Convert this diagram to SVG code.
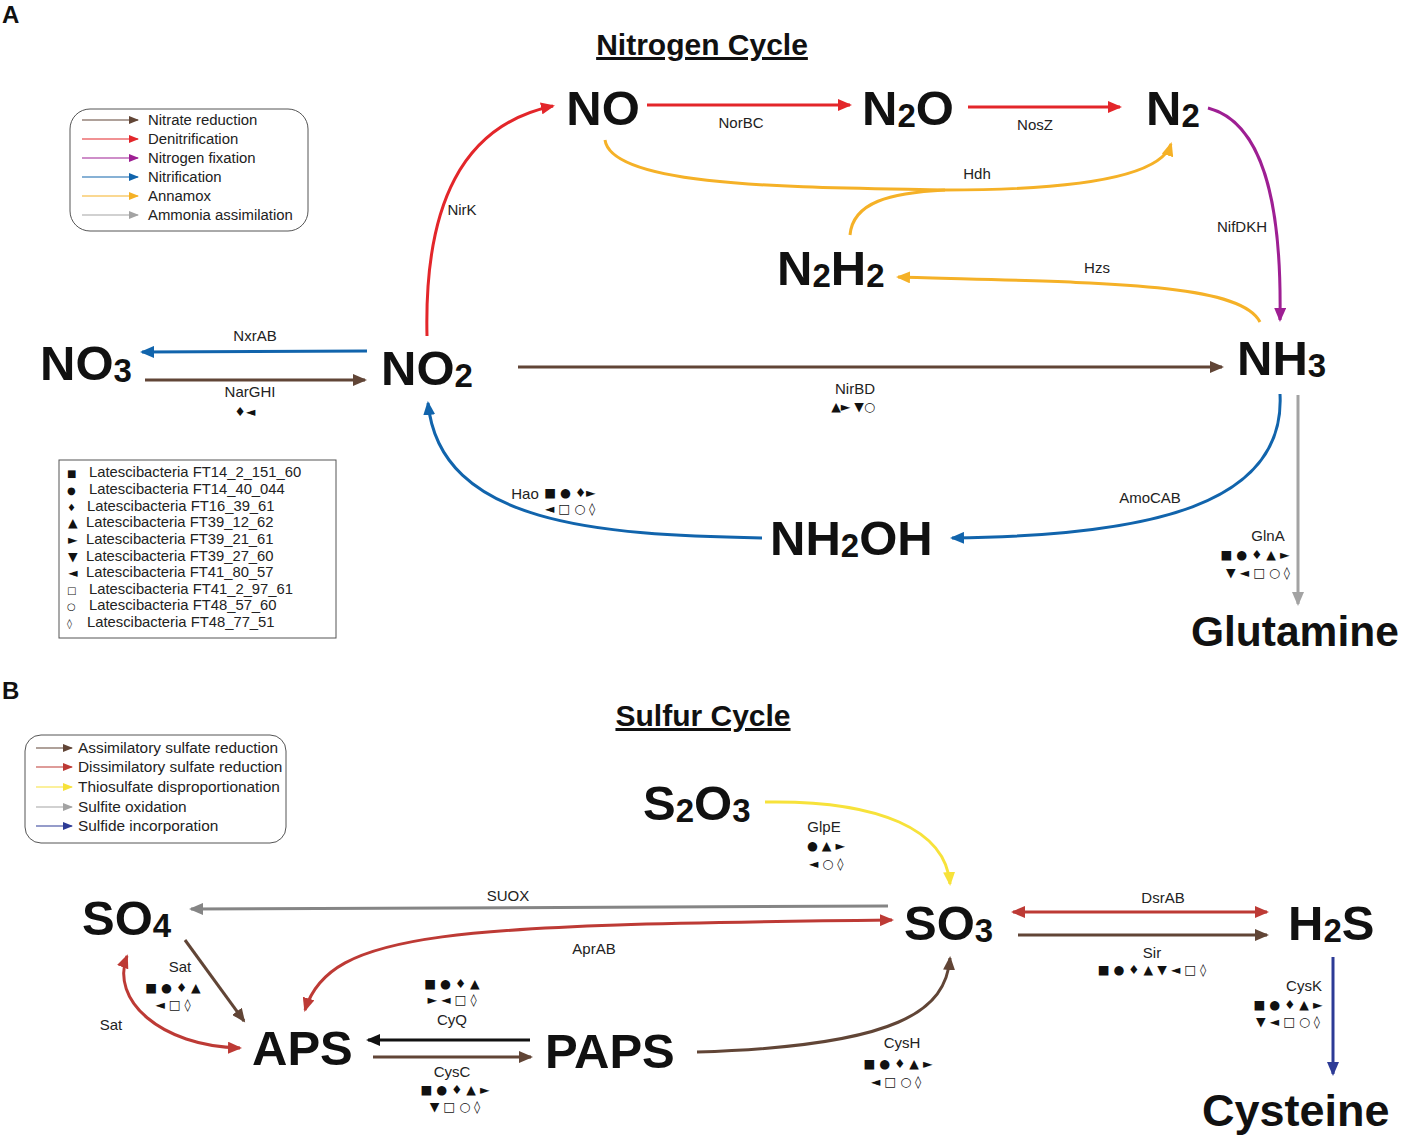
<svg xmlns="http://www.w3.org/2000/svg" width="1408" height="1135" viewBox="0 0 1408 1135">
<style>
text{font-family:"Liberation Sans",Arial,sans-serif;fill:#111}
.mol{font-weight:bold;font-size:49px}
.sub{font-size:33px}
.big{font-weight:bold;font-size:45px}
.glu{font-weight:bold;font-size:42.5px}
.title{font-weight:bold;font-size:30px;text-decoration:underline}
.panel{font-weight:bold;font-size:24px}
.lab{font-size:15px;fill:#222}
.sym{font-family:"DejaVu Sans",sans-serif;font-size:12.5px;fill:#111}
.ls{font-family:"DejaVu Sans",sans-serif;font-size:10px;fill:#111}
.leg{font-size:14.9px;fill:#222}
.legb{font-size:15.4px;fill:#222}
.sp{font-size:14.8px;fill:#222}
.c{fill:none;stroke-width:3}
.l{fill:none;stroke-width:1.2}
</style>
<defs>
<marker id="mRed" markerUnits="userSpaceOnUse" markerWidth="16" markerHeight="12" refX="12" refY="6" orient="auto-start-reverse"><path d="M0,0 L14,6 L0,12 z" fill="#e3262a"/></marker>
<marker id="mBrown" markerUnits="userSpaceOnUse" markerWidth="16" markerHeight="12" refX="12" refY="6" orient="auto-start-reverse"><path d="M0,0 L14,6 L0,12 z" fill="#614536"/></marker>
<marker id="mPurple" markerUnits="userSpaceOnUse" markerWidth="16" markerHeight="12" refX="12" refY="6" orient="auto-start-reverse"><path d="M0,0 L14,6 L0,12 z" fill="#9e1f93"/></marker>
<marker id="mBlue" markerUnits="userSpaceOnUse" markerWidth="16" markerHeight="12" refX="12" refY="6" orient="auto-start-reverse"><path d="M0,0 L14,6 L0,12 z" fill="#1164ac"/></marker>
<marker id="mYellow" markerUnits="userSpaceOnUse" markerWidth="16" markerHeight="12" refX="12" refY="6" orient="auto-start-reverse"><path d="M0,0 L14,6 L0,12 z" fill="#f5b127"/></marker>
<marker id="mGray" markerUnits="userSpaceOnUse" markerWidth="16" markerHeight="12" refX="12" refY="6" orient="auto-start-reverse"><path d="M0,0 L14,6 L0,12 z" fill="#a3a3a3"/></marker>
<marker id="mSRed" markerUnits="userSpaceOnUse" markerWidth="16" markerHeight="12" refX="12" refY="6" orient="auto-start-reverse"><path d="M0,0 L14,6 L0,12 z" fill="#bd3a35"/></marker>
<marker id="mSYellow" markerUnits="userSpaceOnUse" markerWidth="16" markerHeight="12" refX="12" refY="6" orient="auto-start-reverse"><path d="M0,0 L14,6 L0,12 z" fill="#f7e23a"/></marker>
<marker id="mSGray" markerUnits="userSpaceOnUse" markerWidth="16" markerHeight="12" refX="12" refY="6" orient="auto-start-reverse"><path d="M0,0 L14,6 L0,12 z" fill="#858585"/></marker>
<marker id="mSBlue" markerUnits="userSpaceOnUse" markerWidth="16" markerHeight="12" refX="12" refY="6" orient="auto-start-reverse"><path d="M0,0 L14,6 L0,12 z" fill="#2d3b96"/></marker>
<marker id="mBlack" markerUnits="userSpaceOnUse" markerWidth="16" markerHeight="12" refX="12" refY="6" orient="auto-start-reverse"><path d="M0,0 L14,6 L0,12 z" fill="#111"/></marker>
<marker id="sm" markerUnits="userSpaceOnUse" markerWidth="10" markerHeight="8" refX="9" refY="4" orient="auto"><path d="M0,0 L10,4 L0,8 z" fill="context-stroke"/></marker>
</defs>
<rect width="1408" height="1135" fill="#fff"/>

<text class="panel" x="2" y="23">A</text>
<text class="title" x="702" y="55" text-anchor="middle">Nitrogen Cycle</text>
<text class="panel" x="2" y="699">B</text>
<text class="title" x="703" y="726" text-anchor="middle">Sulfur Cycle</text>

<!-- Legend A -->
<g id="legendA">
<rect x="70" y="109" width="238" height="122" rx="20" fill="none" stroke="#555" stroke-width="1"/>
<line x1="82" y1="120" x2="138" y2="120" class="l" stroke="#614536" marker-end="url(#sm)"/>
<line x1="82" y1="139" x2="138" y2="139" class="l" stroke="#e3262a" marker-end="url(#sm)"/>
<line x1="82" y1="158" x2="138" y2="158" class="l" stroke="#9e1f93" marker-end="url(#sm)"/>
<line x1="82" y1="177" x2="138" y2="177" class="l" stroke="#1164ac" marker-end="url(#sm)"/>
<line x1="82" y1="196" x2="138" y2="196" class="l" stroke="#f5b127" marker-end="url(#sm)"/>
<line x1="82" y1="215" x2="138" y2="215" class="l" stroke="#a3a3a3" marker-end="url(#sm)"/>
<text class="leg" x="148" y="125">Nitrate reduction</text>
<text class="leg" x="148" y="144">Denitrification</text>
<text class="leg" x="148" y="163">Nitrogen fixation</text>
<text class="leg" x="148" y="182">Nitrification</text>
<text class="leg" x="148" y="201">Annamox</text>
<text class="leg" x="148" y="220">Ammonia assimilation</text>
</g>

<!-- Species legend -->
<g id="speciesLegend">
<rect x="59" y="460" width="277" height="178" fill="none" stroke="#555" stroke-width="1"/>
<text class="ls" x="67" y="477">■</text><text class="sp" x="89" y="477">Latescibacteria FT14_2_151_60</text>
<text class="ls" x="67" y="494">●</text><text class="sp" x="89" y="494">Latescibacteria FT14_40_044</text>
<text class="ls" x="67" y="511">♦</text><text class="sp" x="87" y="511">Latescibacteria FT16_39_61</text>
<text class="sym" x="68" y="527">▲</text><text class="sp" x="86" y="527">Latescibacteria FT39_12_62</text>
<text class="sym" x="68" y="544">►</text><text class="sp" x="86" y="544">Latescibacteria FT39_21_61</text>
<text class="sym" x="68" y="561">▼</text><text class="sp" x="86" y="561">Latescibacteria FT39_27_60</text>
<text class="sym" x="68" y="577">◄</text><text class="sp" x="86" y="577">Latescibacteria FT41_80_57</text>
<text class="ls" x="67" y="594">□</text><text class="sp" x="89" y="594">Latescibacteria FT41_2_97_61</text>
<text class="ls" x="67" y="610">○</text><text class="sp" x="89" y="610">Latescibacteria FT48_57_60</text>
<text class="ls" x="67" y="627">◊</text><text class="sp" x="87" y="627">Latescibacteria FT48_77_51</text>
</g>

<!-- Nitrogen nodes -->
<g id="NO"><text class="mol" x="603" y="125" text-anchor="middle">NO</text></g>
<g id="N2O"><text class="mol" x="862" y="125">N<tspan class="sub" dy="2">2</tspan><tspan dy="-2">O</tspan></text></g>
<g id="N2"><text class="mol" x="1146" y="125">N<tspan class="sub" dy="2">2</tspan></text></g>
<g id="N2H2"><text class="mol" x="777" y="285">N<tspan class="sub" dy="2">2</tspan><tspan dy="-2">H</tspan><tspan class="sub" dy="2">2</tspan></text></g>
<g id="NO3"><text class="mol" x="40" y="380">NO<tspan class="sub" dy="2">3</tspan></text></g>
<g id="NO2"><text class="mol" x="381" y="385">NO<tspan class="sub" dy="2">2</tspan></text></g>
<g id="NH3"><text class="mol" x="1237" y="375">NH<tspan class="sub" dy="2">3</tspan></text></g>
<g id="NH2OH"><text class="mol" x="770" y="555">NH<tspan class="sub" dy="2">2</tspan><tspan dy="-2">OH</tspan></text></g>
<g id="Glutamine"><text class="glu" x="1191" y="646">Glutamine</text></g>

<!-- Sulfur nodes -->
<g id="S2O3"><text class="mol" x="643" y="820">S<tspan class="sub" dy="2">2</tspan><tspan dy="-2">O</tspan><tspan class="sub" dy="2">3</tspan></text></g>
<g id="SO4"><text class="mol" x="82" y="935">SO<tspan class="sub" dy="2">4</tspan></text></g>
<g id="SO3"><text class="mol" x="904" y="940">SO<tspan class="sub" dy="2">3</tspan></text></g>
<g id="H2S"><text class="mol" x="1288" y="940">H<tspan class="sub" dy="2">2</tspan><tspan dy="-2">S</tspan></text></g>
<g id="APS"><text class="mol" x="252" y="1065">APS</text></g>
<g id="PAPS"><text class="mol" x="545" y="1068">PAPS</text></g>
<g id="Cysteine"><text class="big" x="1202" y="1126">Cysteine</text></g>

<!-- Legend B -->
<g id="legendB">
<rect x="25" y="735" width="261" height="108" rx="16" fill="none" stroke="#555" stroke-width="1"/>
<line x1="36" y1="748" x2="72" y2="748" class="l" stroke="#614536" marker-end="url(#sm)"/>
<line x1="36" y1="767" x2="72" y2="767" class="l" stroke="#bd3a35" marker-end="url(#sm)"/>
<line x1="36" y1="787" x2="72" y2="787" class="l" stroke="#f7e23a" marker-end="url(#sm)"/>
<line x1="36" y1="807" x2="72" y2="807" class="l" stroke="#a3a3a3" marker-end="url(#sm)"/>
<line x1="36" y1="826" x2="72" y2="826" class="l" stroke="#2d3b96" marker-end="url(#sm)"/>
<text class="legb" x="78" y="753">Assimilatory sulfate reduction</text>
<text class="legb" x="78" y="772">Dissimilatory sulfate reduction</text>
<text class="legb" x="78" y="792">Thiosulfate disproportionation</text>
<text class="legb" x="78" y="812">Sulfite oxidation</text>
<text class="legb" x="78" y="831">Sulfide incorporation</text>
</g>

<!-- Connectors -->
<g id="connectors">
<path class="c" stroke="#e3262a" d="M427,336 C424,205 462,125 553,106" marker-end="url(#mRed)"/>
<path class="c" stroke="#e3262a" d="M647,105 L850,105" marker-end="url(#mRed)"/>
<path class="c" stroke="#e3262a" d="M968,107 L1120,107" marker-end="url(#mRed)"/>
<path class="c" stroke="#9e1f93" d="M1208,108 C1262,122 1282,200 1280,320" marker-end="url(#mPurple)"/>
<path class="c" stroke="#f5b127" d="M605,140 C612,188 800,187 945,190 C1060,190 1160,180 1171,144" marker-end="url(#mYellow)"/>
<path class="c" stroke="#f5b127" d="M850,235 C853,202 890,193 945,190"/>
<path class="c" stroke="#f5b127" d="M1260,322 C1240,282 1100,283 898,277" marker-end="url(#mYellow)"/>
<path class="c" stroke="#1164ac" d="M367,351 L142,352" marker-end="url(#mBlue)"/>
<path class="c" stroke="#614536" d="M145,380 L365,380" marker-end="url(#mBrown)"/>
<path class="c" stroke="#614536" d="M518,367 L1222,367" marker-end="url(#mBrown)"/>
<path class="c" stroke="#1164ac" d="M1280,394 C1286,505 1150,536 952,538" marker-end="url(#mBlue)"/>
<path class="c" stroke="#1164ac" d="M762,538 C600,535 440,525 428,403" marker-end="url(#mBlue)"/>
<path class="c" stroke="#a3a3a3" d="M1298,395 L1298,604" marker-end="url(#mGray)"/>

<path class="c" stroke="#f7e23a" d="M765,802 C880,800 946,830 950,884" marker-end="url(#mSYellow)"/>
<path class="c" stroke="#858585" d="M888,906 L191,909" marker-end="url(#mSGray)"/>
<path class="c" stroke="#bd3a35" d="M305,1010 C330,930 450,925 892,920" marker-start="url(#mSRed)" marker-end="url(#mSRed)"/>
<path class="c" stroke="#614536" d="M185,940 L244,1021" marker-end="url(#mBrown)"/>
<path class="c" stroke="#bd3a35" d="M240,1048 C160,1046 110,1000 127,956" marker-start="url(#mSRed)" marker-end="url(#mSRed)"/>
<path class="c" stroke="#111" d="M530,1040 L368,1040" marker-end="url(#mBlack)"/>
<path class="c" stroke="#614536" d="M373,1057 L531,1057" marker-end="url(#mBrown)"/>
<path class="c" stroke="#614536" d="M697,1052 C900,1046 946,1010 950,958" marker-end="url(#mBrown)"/>
<path class="c" stroke="#bd3a35" d="M1013,912 L1267,912" marker-start="url(#mSRed)" marker-end="url(#mSRed)"/>
<path class="c" stroke="#614536" d="M1018,935 L1267,935" marker-end="url(#mBrown)"/>
<path class="c" stroke="#2d3b96" d="M1333,957 L1333,1074" marker-end="url(#mSBlue)"/>
</g>

<!-- Connector labels -->
<g id="labels">
<text class="lab" x="741" y="128" text-anchor="middle">NorBC</text>
<text class="lab" x="1035" y="130" text-anchor="middle">NosZ</text>
<text class="lab" x="1242" y="232" text-anchor="middle">NifDKH</text>
<text class="lab" x="462" y="215" text-anchor="middle">NirK</text>
<text class="lab" x="977" y="179" text-anchor="middle">Hdh</text>
<text class="lab" x="1097" y="273" text-anchor="middle">Hzs</text>
<text class="lab" x="255" y="341" text-anchor="middle">NxrAB</text>
<text class="lab" x="250" y="397" text-anchor="middle">NarGHI</text>
<text class="sym" x="245" y="416" text-anchor="middle">♦◄</text>
<text class="lab" x="855" y="394" text-anchor="middle">NirBD</text>
<text class="sym" x="853" y="411" text-anchor="middle">▲► ▼○</text>
<text class="lab" x="1150" y="503" text-anchor="middle">AmoCAB</text>
<text class="lab" x="525" y="499" text-anchor="middle">Hao</text>
<text class="sym" x="570" y="497" text-anchor="middle">■ ● ♦►</text>
<text class="sym" x="570" y="513" text-anchor="middle">◄ □ ○ ◊</text>
<text class="lab" x="1268" y="541" text-anchor="middle">GlnA</text>
<text class="sym" x="1255" y="559" text-anchor="middle">■ ● ♦ ▲ ►</text>
<text class="sym" x="1258" y="577" text-anchor="middle">▼ ◄ □ ○ ◊</text>

<text class="lab" x="824" y="832" text-anchor="middle">GlpE</text>
<text class="sym" x="826" y="850" text-anchor="middle">● ▲ ►</text>
<text class="sym" x="826" y="868" text-anchor="middle">◄  ○ ◊</text>
<text class="lab" x="508" y="901" text-anchor="middle">SUOX</text>
<text class="lab" x="594" y="954" text-anchor="middle">AprAB</text>
<text class="lab" x="180" y="972" text-anchor="middle">Sat</text>
<text class="sym" x="173" y="992" text-anchor="middle">■ ● ♦ ▲</text>
<text class="sym" x="173" y="1009" text-anchor="middle">◄ □  ◊</text>
<text class="lab" x="111" y="1030" text-anchor="middle">Sat</text>
<text class="sym" x="452" y="988" text-anchor="middle">■ ● ♦ ▲</text>
<text class="sym" x="452" y="1004" text-anchor="middle">► ◄ □ ◊</text>
<text class="lab" x="452" y="1025" text-anchor="middle">CyQ</text>
<text class="lab" x="452" y="1077" text-anchor="middle">CysC</text>
<text class="sym" x="455" y="1094" text-anchor="middle">■ ● ♦ ▲ ►</text>
<text class="sym" x="455" y="1111" text-anchor="middle">▼ □ ○ ◊</text>
<text class="lab" x="902" y="1048" text-anchor="middle">CysH</text>
<text class="sym" x="898" y="1068" text-anchor="middle">■ ● ♦ ▲ ►</text>
<text class="sym" x="896" y="1086" text-anchor="middle">◄ □ ○ ◊</text>
<text class="lab" x="1163" y="903" text-anchor="middle">DsrAB</text>
<text class="lab" x="1152" y="958" text-anchor="middle">Sir</text>
<text class="sym" x="1152" y="974" text-anchor="middle">■ ● ♦ ▲ ▼ ◄ □ ◊</text>
<text class="lab" x="1304" y="991" text-anchor="middle">CysK</text>
<text class="sym" x="1288" y="1009" text-anchor="middle">■ ● ♦ ▲ ►</text>
<text class="sym" x="1288" y="1026" text-anchor="middle">▼ ◄ □ ○ ◊</text>
</g>
</svg>
